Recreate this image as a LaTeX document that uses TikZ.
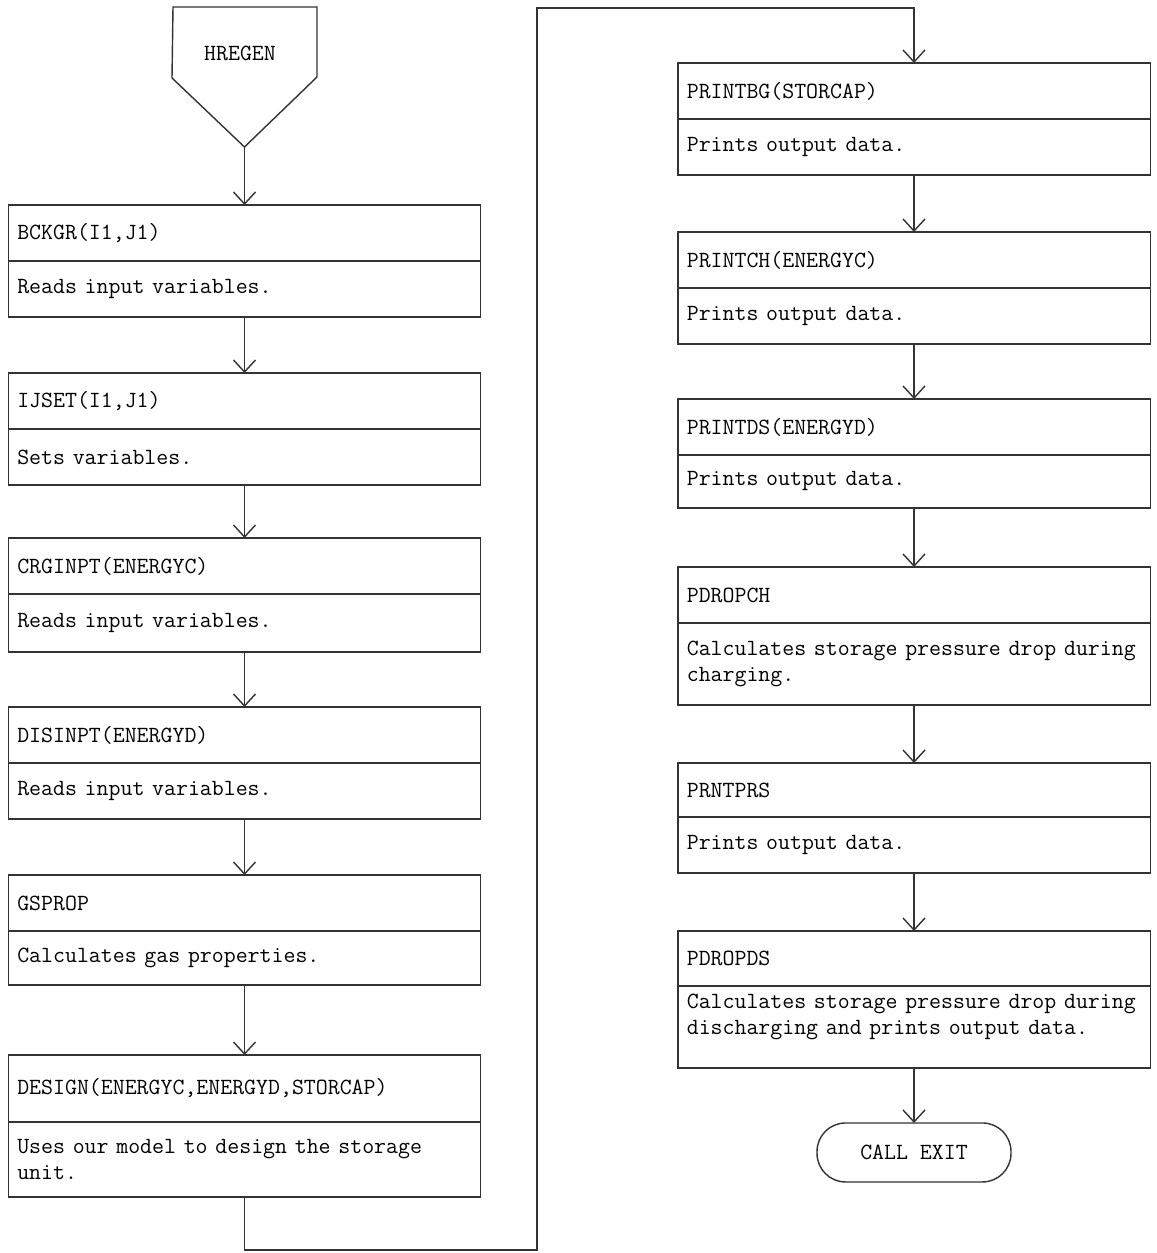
\documentclass[tikz,border=0pt]{standalone}
\usepackage{fontspec}
\usetikzlibrary{positioning}
\usetikzlibrary{arrows.meta}

\begin{document}
\begin{tikzpicture}[x=0.02cm,y=-0.02cm]
    \tikzstyle{outline}=[draw=black!80,line width=0.8pt]
    \tikzstyle{typed}=[font=\fontsize{13.2}{14.5}\ttfamily,text=black]
    \tikzstyle{head}=[style=outline,style=typed,anchor=north,outer sep=0pt,text width=9.09cm,inner xsep=0.18cm,minimum height=1.12cm,align=left]
    \tikzset{body/.style={style=head,below=0pt of #1}}
    \tikzstyle{flow}=[-{Straight Barb[length=0.24cm,width=0.44cm]},style=outline]
    \tikzstyle{terminal}=[style=outline,style=typed,outer sep=0pt,rounded corners=0.57cm,minimum width=3.88cm,minimum height=1.18cm]

    \useasboundingbox (0,0) rectangle (1156,1253);

    % Entry
    \coordinate (hregen tip) at (244.5,147);
    \draw[style=outline] (173,7) -- (317,7) -- (317,77) -- (hregen tip) -- (172,78) -- cycle;
    \node[style=typed] (hregen) at (240,53) {HREGEN};

    % Left column
    \node[style=head] (bckgr) at (244.5,205) {BCKGR(I1,J1)};
    \node[body=bckgr] (bckgrB) {Reads input variables.};

    \node[style=head] (ijset) at (244.5,373) {IJSET(I1,J1)};
    \node[body=ijset] (ijsetB) {Sets variables.};

    \node[style=head] (crginpt) at (244.5,538) {CRGINPT(ENERGYC)};
    \node[body=crginpt,minimum height=1.16cm] (crginptB) {Reads input variables.};

    \node[style=head] (disinpt) at (244.5,707) {DISINPT(ENERGYD)};
    \node[body=disinpt] (disinptB) {Reads input variables.};

    \node[style=head] (gsprop) at (244.5,875) {GSPROP};
    \node[body=gsprop,minimum height=1.08cm] (gspropB) {Calculates gas properties.};

    \node[style=head,minimum height=1.34cm] (design) at (244.5,1055) {DESIGN(ENERGYC,ENERGYD,STORCAP)};
    \node[body=design,minimum height=1.5cm] (designB) {Uses our model to design the storage\\unit.};

    % Right column
    \node[style=head] (printbg) at (914,63) {PRINTBG(STORCAP)};
    \node[body=printbg] (printbgB) {Prints output data.};

    \node[style=head] (printch) at (914,232) {PRINTCH(ENERGYC)};
    \node[body=printch] (printchB) {Prints output data.};

    \node[style=head] (printds) at (914,399) {PRINTDS(ENERGYD)};
    \node[body=printds,minimum height=1.06cm] (printdsB) {Prints output data.};

    \node[style=head] (pdropch) at (914,567) {PDROPCH};
    \node[body=pdropch,minimum height=1.64cm] (pdropchB) {Calculates storage pressure drop during\\charging.};

    \node[style=head,minimum height=1.08cm] (prntprs) at (914,763) {PRNTPRS};
    \node[body=prntprs] (prntprsB) {Prints output data.};

    \node[style=head,minimum height=1.1cm] (pdropds) at (914,931) {PDROPDS};
    \node[body=pdropds,minimum height=1.64cm] (pdropdsB) {Calculates storage pressure drop during\\discharging and prints output data.\\\mbox{}};

    \node[style=terminal,below=1.1cm of pdropdsB] (exit) {CALL EXIT};

    % Connectors
    \draw[style=flow] (hregen tip) -- (bckgr.north);
    \draw[style=flow] (bckgrB.south) -- (ijset.north);
    \draw[style=flow] (ijsetB.south) -- (crginpt.north);
    \draw[style=flow] (crginptB.south) -- (disinpt.north);
    \draw[style=flow] (disinptB.south) -- (gsprop.north);
    \draw[style=flow] (gspropB.south) -- (design.north);

    \coordinate (jump low) at (537,1250);
    \coordinate (jump high) at (537,8);
    \draw[style=flow] (designB.south) |- (jump low) -- (jump high) -| (printbg.north);

    \draw[style=flow] (printbgB.south) -- (printch.north);
    \draw[style=flow] (printchB.south) -- (printds.north);
    \draw[style=flow] (printdsB.south) -- (pdropch.north);
    \draw[style=flow] (pdropchB.south) -- (prntprs.north);
    \draw[style=flow] (prntprsB.south) -- (pdropds.north);
    \draw[style=flow] (pdropdsB.south) -- (exit.north);

\end{tikzpicture}
\end{document}
